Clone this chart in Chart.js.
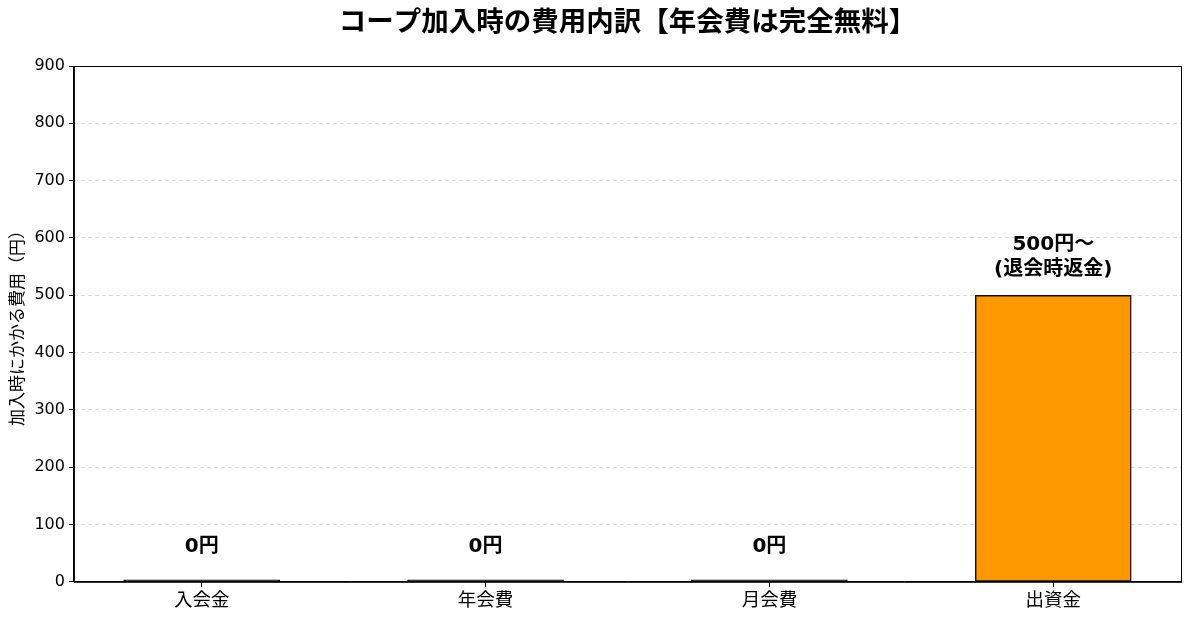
<!DOCTYPE html>
<html>
<head>
<meta charset="utf-8">
<script src="https://cdn.jsdelivr.net/npm/chart.js@4.4.1/dist/chart.umd.min.js"></script>
<style>
  html, body { margin: 0; padding: 0; background: #fff; }
  #wrap { width: 1189px; height: 620px; }
</style>
</head>
<body>
<div id="wrap"><canvas id="costChart"></canvas></div>
<script>
const categories = ["入会金", "年会費", "月会費", "出資金"];
const costValues = [0, 0, 0, 500];
const barLabels = [["0円"], ["0円"], ["0円"], ["500円～", "(退会時返金)"]];
const yTicks = [0, 100, 200, 300, 400, 500, 600, 700, 800, 900];
const chartTitle = "コープ加入時の費用内訳【年会費は完全無料】";

const FONT = "'DejaVu Sans', 'Noto Sans CJK JP', sans-serif";
const CJK = "'Noto Sans CJK JP', 'DejaVu Sans', sans-serif";
Chart.defaults.font.family = FONT;
Chart.defaults.color = "#000";

// full box around the plot area + title centred over the plot
const frame = {
  id: "frame",
  afterDraw(chart) {
    const { ctx, chartArea: a } = chart;
    ctx.save();
    ctx.strokeStyle = "#000";
    ctx.lineWidth = 1;
    ctx.strokeRect(a.left + 0.5, a.top + 0.5, a.right - a.left, a.bottom - a.top);
    ctx.font = "bold 27.5px " + CJK;
    ctx.fillStyle = "#000";
    ctx.textAlign = "center";
    ctx.textBaseline = "middle";
    ctx.fillText(chartTitle, (a.left + a.right) / 2, 21);
    ctx.restore();
  },
};

// text above each bar
const valueLabels = {
  id: "valueLabels",
  afterDatasetsDraw(chart) {
    const { ctx } = chart;
    const meta = chart.getDatasetMeta(0);
    const yScale = chart.scales.y;
    ctx.save();
    ctx.textAlign = "center";
    ctx.textBaseline = "middle";
    ctx.font = "bold 20px " + FONT;
    ctx.fillStyle = "#000";
    meta.data.forEach((bar, i) => {
      const lines = barLabels[i];
      const yTop = yScale.getPixelForValue(costValues[i]);
      const last = lines.length > 1 ? yTop - 25 : yTop - 35;
      const top = last - (lines.length - 1) * 25;
      lines.forEach((t, j) => ctx.fillText(t, bar.x, top + j * 25));
    });
    ctx.restore();
  },
};

new Chart(document.getElementById("costChart"), {
  type: "bar",
  data: {
    datasets: [
      {
        data: costValues.map((v, i) => ({ x: i, y: v })),
        backgroundColor: costValues.map((v) => (v === 0 ? "#111" : "#FF9800")),
        borderColor: "#111",
        borderWidth: 1.5,
        borderSkipped: false,
        barThickness: 156,
        minBarLength: 2,
      },
    ],
  },
  options: {
    responsive: true,
    maintainAspectRatio: false,
    animation: false,
    devicePixelRatio: 1,
    layout: { padding: { left: 2, right: 8, top: 66, bottom: 9 } },
    plugins: {
      legend: { display: false },
      tooltip: { enabled: false },
      title: { display: false },
    },
    scales: {
      x: {
        type: "linear",
        offset: false,
        min: -0.45,
        max: 3.45,
        afterBuildTicks: (axis) => {
          axis.ticks = categories.map((c, i) => ({ value: i }));
        },
        ticks: {
          callback: (v) => categories[v],
          font: { size: 18.5, family: CJK },
          color: "#000",
          padding: 1,
        },
        grid: {
          offset: false,
          drawOnChartArea: false,
          tickColor: "#000",
          tickLength: 5,
        },
        border: { color: "#000" },
      },
      y: {
        min: 0,
        max: 900,
        afterBuildTicks: (axis) => {
          axis.ticks = yTicks.map((v) => ({ value: v }));
        },
        ticks: {
          font: { size: 16 },
          color: "#000",
          padding: 4,
        },
        grid: {
          color: "#dddddd",
          tickColor: "#000",
          tickLength: 5,
          tickBorderDash: [],
        },
        border: { color: "#000", dash: [4, 3] },
        title: {
          display: true,
          text: "加入時にかかる費用（円）",
          font: { size: 17, family: CJK },
          color: "#000",
          padding: { bottom: 4 },
        },
      },
    },
  },
  plugins: [frame, valueLabels],
});
</script>
</body>
</html>
